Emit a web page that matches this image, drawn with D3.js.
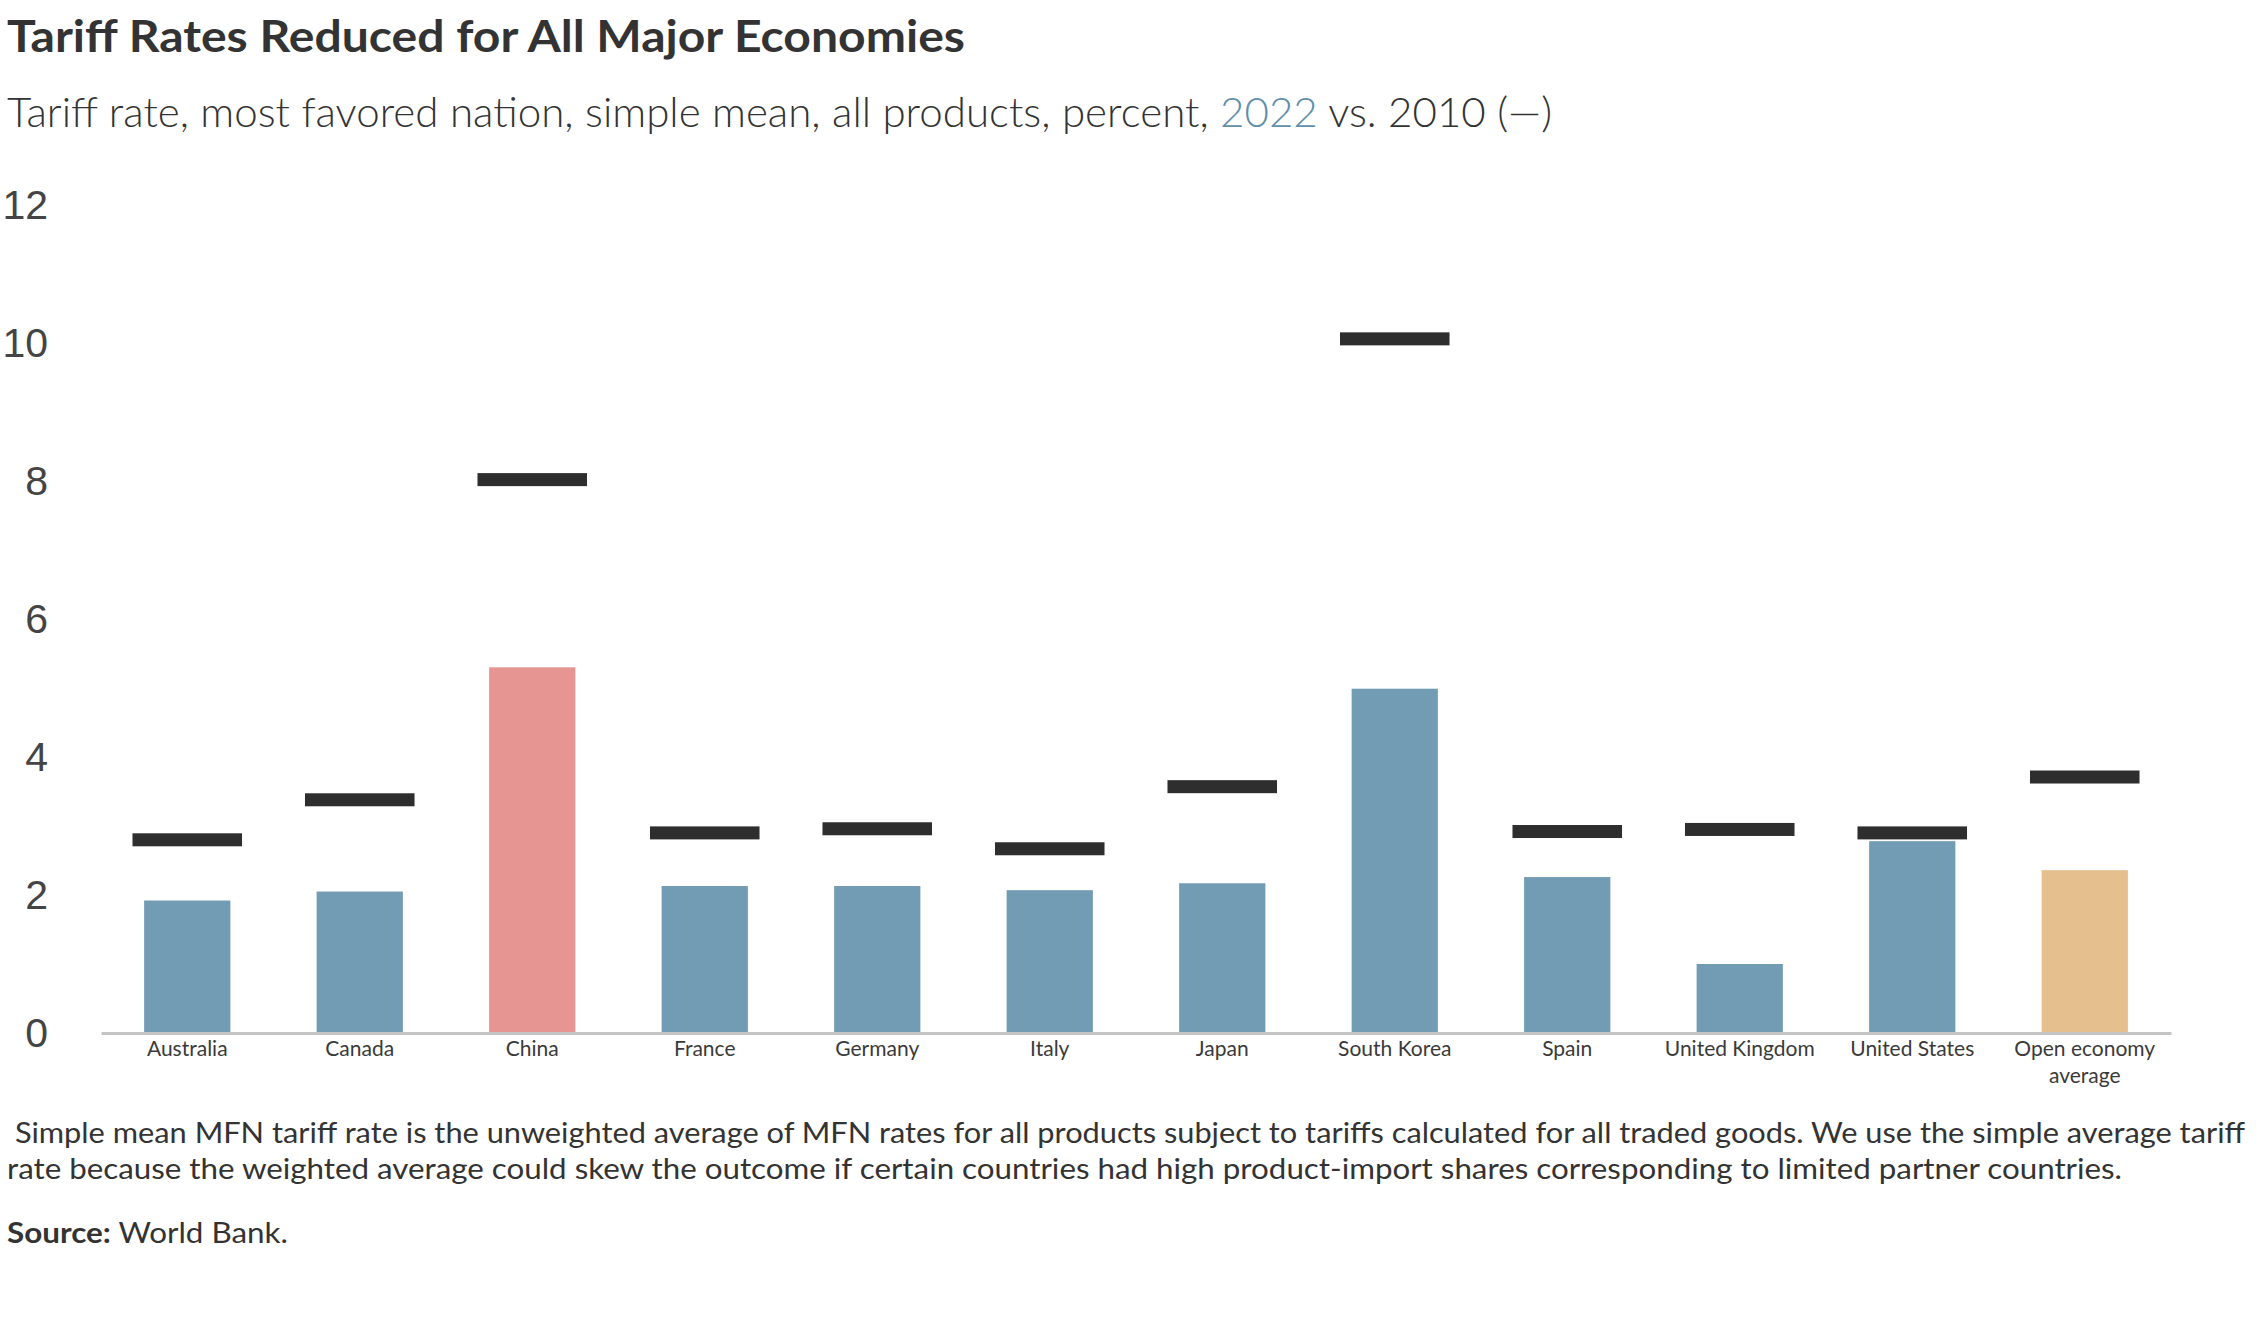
<!DOCTYPE html>
<html>
<head>
<meta charset="utf-8">
<script src="https://cdn.jsdelivr.net/npm/d3@7"></script>
<style>
  body { margin:0; background:#fff; }
  svg { display:block; font-family: "Source Sans Pro", Lato, "Noto Sans", sans-serif; }
</style>
</head>
<body>
<svg width="2259" height="1344"></svg>
<script>
// economies, in the order shown on the chart
var countries = ["Australia", "Canada", "China", "France", "Germany", "Italy", "Japan",
  "South Korea", "Spain", "United Kingdom", "United States", "Open economy average"];
// simple mean MFN tariff, percent
var rate2022 = [1.92, 2.05, 5.30, 2.13, 2.13, 2.07, 2.17, 4.99, 2.26, 1.00, 2.78, 2.36];
var rate2010 = [2.80, 3.38, 8.02, 2.90, 2.96, 2.67, 3.57, 10.06, 2.92, 2.95, 2.90, 3.71];
var yTicks = [0, 2, 4, 6, 8, 10, 12];

var title = "Tariff Rates Reduced for All Major Economies";
var subtitle = ["Tariff rate, most favored nation, simple mean, all products, percent, ", "2022", " vs. 2010 (\u2014)"];
var note = [" Simple mean MFN tariff rate is the unweighted average of MFN rates for all products subject to tariffs calculated for all traded goods. We use the simple average tariff",
  "rate because the weighted average could skew the outcome if certain countries had high product-import shares corresponding to limited partner countries."];
var source = ["Source:", " World Bank."];

var svg = d3.select("svg");
var ink = "#333333";

// squeeze a text line so it covers the same width as in the original
function fit(sel, w)
{
  sel.attr("textLength", w).attr("lengthAdjust", "spacingAndGlyphs");
}

var data = countries.map(function(c, i) { return {name:c, now:rate2022[i], then:rate2010[i]}; });

var x = d3.scaleBand().domain(countries).range([101, 2171]).paddingInner(0.5).paddingOuter(0.25);
var y = d3.scaleLinear().domain([0, 12]).range([1033, 205]);

var color = d3.scaleOrdinal()
  .domain(["China", "Open economy average"])
  .range(["#e79592", "#e6bf8e"])
  .unknown("#729cb3");

// header
svg.append("text")
  .attr("x", 7).attr("y", 52)
  .style("font-size", "44px").style("font-weight", 700).style("fill", ink)
  .text(title)
  .call(fit, 958);

var sub = svg.append("text")
  .attr("x", 7).attr("y", 127)
  .style("font-size", "42px").style("font-weight", 300).style("fill", ink);
sub.append("tspan").text(subtitle[0]);
sub.append("tspan").style("fill", "#5f8fab").text(subtitle[1]);
sub.append("tspan").text(subtitle[2]);
sub.call(fit, 1545);

// y axis: labels only
var yAxis = svg.append("g")
  .attr("transform", "translate(48,0)")
  .call(d3.axisLeft(y).tickValues(yTicks).tickSize(0).tickPadding(0));
yAxis.select(".domain").remove();
yAxis.selectAll("text")
  .style("font-family", "inherit").style("font-size", "41px").style("font-weight", 300)
  .style("fill", "#444");

// bars for 2022
svg.selectAll("rect.bar")
  .data(data).enter()
  .append("rect")
  .attr("class", "bar")
  .attr("x", d => x(d.name))
  .attr("width", x.bandwidth())
  .attr("y", d => y(d.now))
  .attr("height", d => y(0) - y(d.now))
  .style("fill", d => color(d.name));

// x axis with the gray baseline
var xAxis = svg.append("g")
  .attr("transform", "translate(0," + y(0) + ")")
  .call(d3.axisBottom(x).tickSize(0).tickPadding(0).tickSizeOuter(0));
xAxis.select(".domain").style("stroke", "#c4c4c4").style("stroke-width", 3);
xAxis.selectAll(".tick text").remove();
xAxis.selectAll(".tick").each(function(d) {
  var t = d3.select(this).append("text")
    .attr("text-anchor", "middle")
    .style("font-family", "Lato, sans-serif").style("font-size", "21px").style("font-weight", 400)
    .style("fill", "#3a3a3a");
  var lines = d == "Open economy average" ? ["Open economy", "average"] : [d];
  lines.forEach(function(l, k) {
    t.append("tspan").attr("x", 0).attr("y", 23 + k * 27).text(l);
  });
});

// 2010 markers
var mw = x.bandwidth() * 1.27;
svg.selectAll("rect.mark")
  .data(data).enter()
  .append("rect")
  .attr("class", "mark")
  .attr("x", d => x(d.name) + x.bandwidth() / 2 - mw / 2)
  .attr("width", mw)
  .attr("y", d => y(d.then) - 6.5)
  .attr("height", 13)
  .style("fill", "#2e2e2e");

// footnote
var widths = [2238, 2115];
note.forEach(function(l, k) {
  svg.append("text")
    .attr("x", 7).attr("y", 1143 + k * 36)
    .attr("xml:space", "preserve")
    .style("font-size", "28px").style("font-weight", 400).style("fill", ink)
    .text(l)
    .call(fit, widths[k]);
});

var src = svg.append("text")
  .attr("x", 7).attr("y", 1243)
  .style("font-size", "28px").style("fill", ink);
src.append("tspan").style("font-weight", 700).text(source[0]);
src.append("tspan").attr("xml:space", "preserve").style("font-weight", 400).text(source[1]);
src.call(fit, 281);
</script>
</body>
</html>
